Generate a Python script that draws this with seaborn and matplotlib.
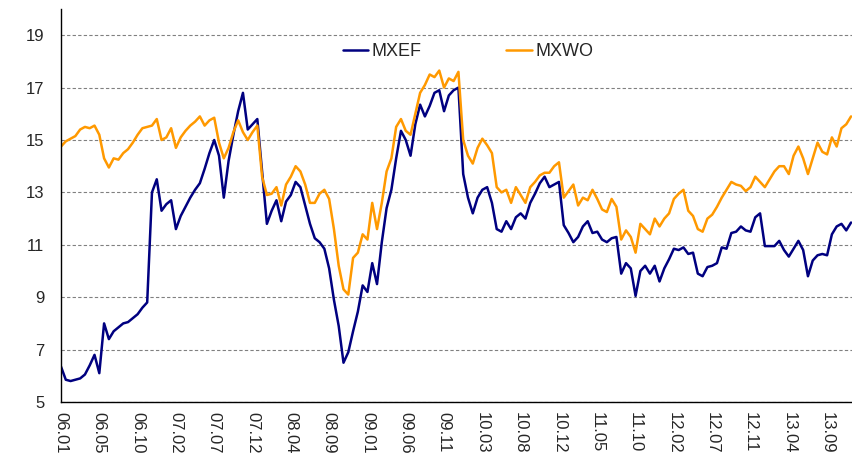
import numpy as np
import pandas as pd
import matplotlib
matplotlib.use("Agg")
import matplotlib.pyplot as plt
import seaborn as sns

# x tick labels (yy.mm), one every 8 samples
tick_labels = ["06.01", "06.05", "06.10", "07.02", "07.07", "07.12", "08.04",
               "08.09", "09.01", "09.06", "09.11", "10.03", "10.08", "10.12",
               "11.05", "11.10", "12.02", "12.07", "12.11", "13.04", "13.09"]

# values, evenly spaced samples
mxef = [6.35, 5.85, 5.8, 5.85, 5.9, 6.05, 6.4, 6.8, 6.1, 8.0, 7.4, 7.7, 7.85, 8.0, 8.05, 8.2, 8.35, 8.6, 8.8, 13.0, 13.5,
        12.3, 12.55, 12.7, 11.6, 12.1, 12.45, 12.8, 13.1, 13.35, 13.9, 14.5, 15.0, 14.4, 12.8, 14.2, 15.2, 16.1, 16.8, 15.4, 15.6,
        15.8, 13.8, 11.8, 12.3, 12.7, 11.9, 12.65, 12.9, 13.4, 13.2, 12.5, 11.8, 11.25, 11.1, 10.85, 10.1, 8.9, 7.9, 6.5, 6.9,
        7.7, 8.45, 9.45, 9.2, 10.3, 9.5, 11.1, 12.4, 13.1, 14.3, 15.35, 15.0, 14.4, 15.6, 16.35, 15.9, 16.3, 16.8, 16.9, 16.1,
        16.7, 16.9, 17.0, 13.7, 12.8, 12.2, 12.8, 13.1, 13.2, 12.6, 11.6, 11.5, 11.9, 11.6, 12.05, 12.2, 12.0, 12.6, 12.95, 13.35,
        13.6, 13.2, 13.3, 13.4, 11.75, 11.45, 11.1, 11.3, 11.7, 11.9, 11.45, 11.5, 11.2, 11.1, 11.25, 11.3, 9.9, 10.3, 10.1, 9.05,
        10.0, 10.2, 9.9, 10.2, 9.6, 10.1, 10.45, 10.85, 10.8, 10.9, 10.65, 10.7, 9.9, 9.8, 10.15, 10.2, 10.3, 10.9, 10.85, 11.45,
        11.5, 11.7, 11.55,
        11.5, 12.05, 12.2, 10.95, 10.95, 10.95, 11.15, 10.8, 10.55, 10.85, 11.15, 10.8, 9.8, 10.4, 10.6, 10.65, 10.6, 11.4, 11.7,
        11.8, 11.55, 11.85]

mxwo = [14.75, 14.95, 15.05, 15.15, 15.4, 15.5, 15.45, 15.55, 15.2, 14.3, 13.95, 14.3, 14.25, 14.5, 14.65, 14.9, 15.2, 15.45, 15.5, 15.55, 15.8,
        15.0, 15.1, 15.45, 14.7, 15.1, 15.35, 15.55, 15.7, 15.9, 15.55, 15.75, 15.85, 14.9, 14.3, 14.7, 15.3, 15.75, 15.3, 15.0, 15.3,
        15.55, 13.6, 12.9, 12.95, 13.2, 12.5, 13.3, 13.6, 14.0, 13.8, 13.3, 12.6, 12.6, 12.95, 13.1, 12.75, 11.6, 10.2, 9.3, 9.1,
        10.5, 10.7, 11.4, 11.2, 12.6, 11.6, 12.6, 13.8, 14.3, 15.5, 15.8, 15.35, 15.2, 16.0, 16.8, 17.1, 17.5, 17.4, 17.65, 17.0,
        17.35, 17.25, 17.6, 15.0, 14.4, 14.1, 14.7, 15.05, 14.8, 14.5, 13.2, 13.0, 13.1, 12.6, 13.2, 12.9, 12.6, 13.2, 13.4, 13.65,
        13.75, 13.75, 14.0, 14.15, 12.8, 13.05, 13.3, 12.5, 12.8, 12.7, 13.1, 12.75, 12.35, 12.25, 12.75, 12.45, 11.2, 11.55, 11.3, 10.7,
        11.8, 11.6, 11.4, 12.0, 11.7, 12.0, 12.2, 12.75, 12.95, 13.1, 12.3, 12.1, 11.6, 11.5, 12.0, 12.15, 12.45, 12.8, 13.1, 13.4,
        13.3, 13.25, 13.05,
        13.2, 13.6, 13.4, 13.2, 13.5, 13.8, 14.0, 14.0, 13.7, 14.4, 14.75, 14.3, 13.7, 14.3, 14.9, 14.55, 14.45, 15.1, 14.75,
        15.45, 15.6, 15.9]

sns.set_style("white")
plt.rcParams["font.family"] = ["Liberation Sans", "DejaVu Sans"]

x = np.arange(len(mxef))
df = pd.DataFrame({
    "t": np.concatenate([x, x]),
    "value": mxef + mxwo,
    "series": ["MXEF"] * len(mxef) + ["MXWO"] * len(mxwo),
})

fig = plt.figure(figsize=(8.52, 4.67), dpi=100)
ax = fig.add_axes([61 / 852, 1 - 402 / 467, 791 / 852, 393 / 467])
sns.lineplot(data=df, x="t", y="value", hue="series", hue_order=["MXEF", "MXWO"],
             palette={"MXEF": "#000080", "MXWO": "#FF9900"}, linewidth=1.8, ax=ax)

ax.set_xlim(0, 165.2)
ax.set_ylim(5, 20)
ax.set_yticks(np.arange(5, 20, 2))
ax.set_xticks(np.arange(0, len(mxef), 8))
ax.set_xticklabels(tick_labels, rotation=-90)
ax.set_xlabel("")
ax.set_ylabel("")

ax.grid(False)
ax.yaxis.grid(True, linestyle=(0, (3, 2)), color="#808080", linewidth=0.8)
for s in ["top", "right"]:
    ax.spines[s].set_visible(False)
for s in ["left", "bottom"]:
    ax.spines[s].set_color("black")
    ax.spines[s].set_linewidth(1)
ax.tick_params(axis="both", direction="out", length=4, width=1, color="black", labelsize=12)
ax.tick_params(axis="y", pad=8)

ax.legend(loc="center", bbox_to_anchor=(0.5145, 0.8906), ncol=2, frameon=False,
          fontsize=13, handlelength=1.4, handletextpad=0.2, columnspacing=4.7)

fig.savefig("out.png", dpi=100)
